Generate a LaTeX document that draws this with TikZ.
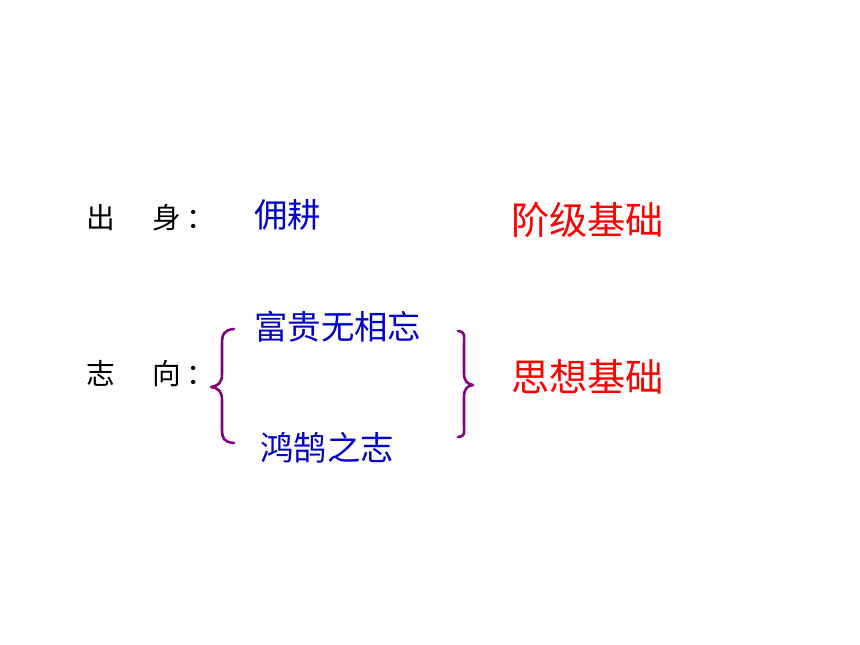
\documentclass[tikz,border=0pt]{standalone}
\usepackage{fontspec}
\setmainfont{Noto Sans CJK SC}
\definecolor{txtblue}{RGB}{0,0,204}
\definecolor{txtred}{RGB}{255,0,0}
\definecolor{bracepurple}{RGB}{128,0,128}
\begin{document}
\begin{tikzpicture}[x=1bp,y=-1bp,
  lbl/.style={inner sep=0pt,anchor=west,text=black,font=\fontsize{28.7bp}{34bp}\selectfont},
  itm/.style={inner sep=0pt,anchor=west,text=txtblue,font=\fontsize{33.4bp}{40bp}\selectfont},
  res/.style={inner sep=0pt,anchor=west,text=txtred,font=\fontsize{38.2bp}{46bp}\selectfont},
  bracestyle/.style={draw=bracepurple,line width=2.6bp,line cap=round,line join=round}]
\useasboundingbox[fill=white] (0,0) rectangle (860,645);
% labels
\node[lbl] (chushen) at (86,218) {出\hspace{38bp}身\hspace{5bp}：};
\node[lbl] (zhixiang) at (86,374) {志\hspace{38bp}向\hspace{5bp}：};
% items
\node[itm] (yonggeng) at (254,215) {佣耕};
\node[itm] (fugui) at (254,327) {富贵无相忘};
\node[itm] (honghu) at (260,448) {鸿鹄之志};
% results
\node[res] (jieji) at (511,220) {阶级基础};
\node[res] (sixiang) at (511,377) {思想基础};
% left brace
\draw[bracestyle] (234,329) .. controls (224,330) and (222,334) .. (222,344)
  -- (222,374) .. controls (222,383) and (218,386) .. (211,387)
  .. controls (218,388) and (222,391) .. (222,400)
  -- (222,429) .. controls (222,439) and (224,442) .. (234,443);
% right brace
\draw[bracestyle] (458,331) .. controls (466,332) and (464,336) .. (464,345)
  -- (464,373) .. controls (464,381) and (467,384) .. (473,385)
  .. controls (467,386) and (464,389) .. (464,397)
  -- (464,424) .. controls (464,433) and (466,436) .. (458,437);
\end{tikzpicture}
\end{document}
